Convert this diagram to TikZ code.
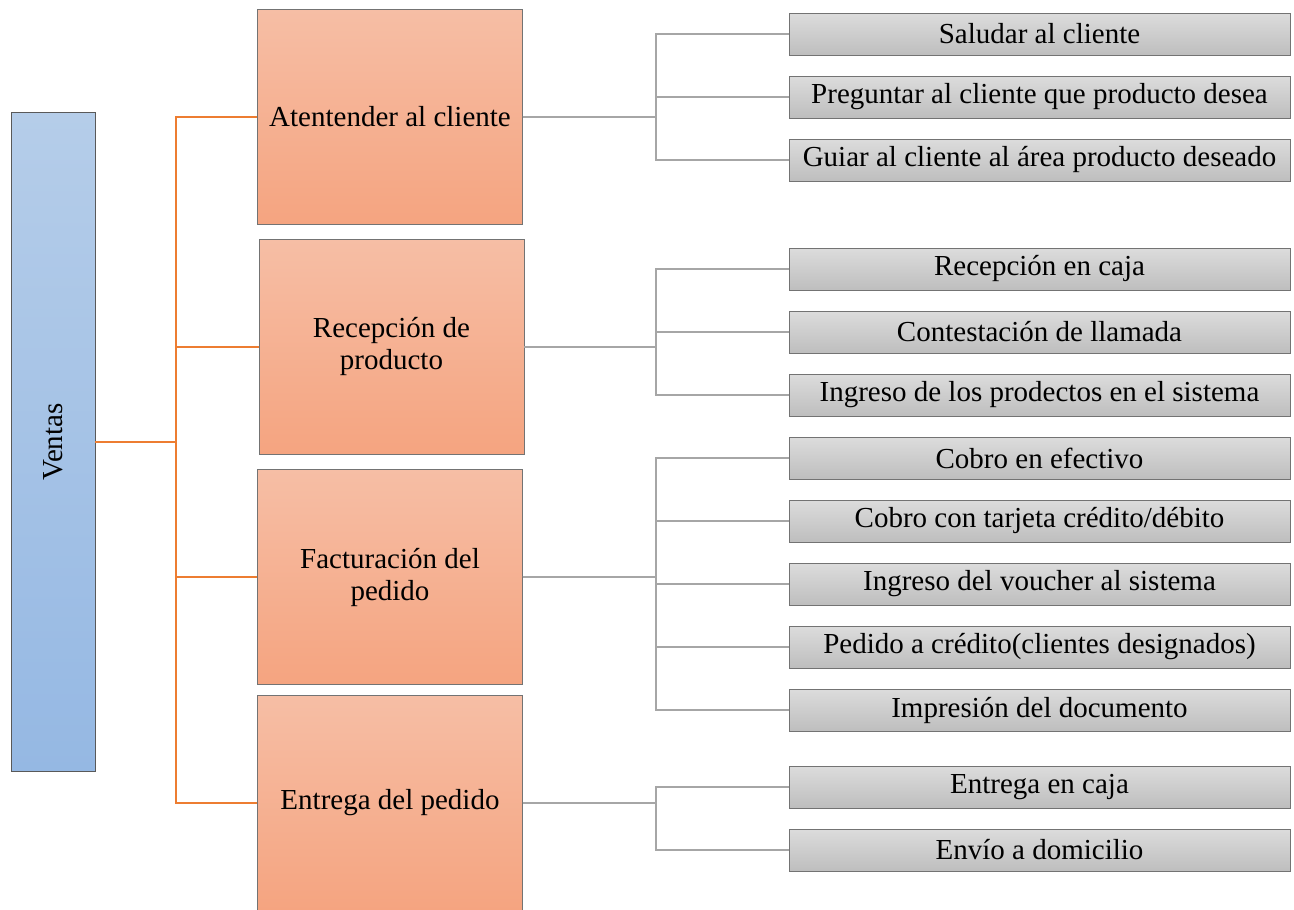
\documentclass[tikz,border=0pt]{standalone}
\usepackage{graphicx}
\usepackage{fontspec}
\setmainfont{Liberation Serif}
\definecolor{rootTop}{HTML}{B5CDE9}
\definecolor{rootBot}{HTML}{95B8E3}
\definecolor{stepTop}{HTML}{F6BEA5}
\definecolor{stepBot}{HTML}{F5A480}
\definecolor{taskTop}{HTML}{DCDCDC}
\definecolor{taskBot}{HTML}{BEBEBE}
\definecolor{orangeLn}{HTML}{ED7D31}
\definecolor{grayLn}{HTML}{A6A6A6}
\tikzset{
  rootbox/.style={draw=black!65,top color=rootTop,bottom color=rootBot,minimum width=84pt,minimum height=659pt,inner sep=0pt},
  stepbox/.style={draw=black!55,top color=stepTop,bottom color=stepBot,minimum width=265pt,minimum height=215pt,align=center,inner sep=0pt},
  taskbox/.style={draw=black!55,top color=taskTop,bottom color=taskBot,minimum width=501pt,minimum height=42pt,inner sep=0pt},
  orangeline/.style={draw=orangeLn,line width=2pt},
  grayline/.style={draw=grayLn,line width=2.5pt}
}
\begin{document}
\begin{tikzpicture}[x=1pt,y=-1pt,font=\fontsize{29}{32}\selectfont]
\useasboundingbox (0,0) rectangle (1294,910);
\node[rootbox] (ventas) at (53,442) {\rotatebox{90}{Ventas}};
% second level
\node[stepbox] (atender) at (390,117) {Atentender al cliente};
\node[stepbox] (recepcion) at (391.5,347) {Recepción de\\producto};
\node[stepbox] (factura) at (390,577) {Facturación del\\pedido};
\node[stepbox] (entrega) at (390,803) {Entrega del pedido};
% third level
\foreach \n/\y/\t in {s1/34/Saludar al cliente,s2/97/Preguntar al cliente que producto desea,s3/160/Guiar al cliente al área producto deseado,
  r1/269/Recepción en caja,r2/332/Contestación de llamada,r3/395/Ingreso de los prodectos en el sistema,
  f1/458/Cobro en efectivo,f2/521/{Cobro con tarjeta crédito/débito},f3/584/Ingreso del voucher al sistema,f4/647/Pedido a crédito(clientes designados),f5/710/Impresión del documento,
  e1/787/Entrega en caja,e2/850/Envío a domicilio}
  \node[taskbox] (\n) at (1039.5,\y) {\t};
% connectors
\coordinate (ob) at (176,0);
\coordinate (gb) at (656,0);
\draw[orangeline] (ventas.east) -- (ventas.east -| ob);
\foreach \b in {atender,recepcion,factura,entrega}
  \draw[orangeline] (ventas.east -| ob) |- (\b.west);
\foreach \b/\c in {atender/s1,atender/s2,atender/s3,recepcion/r1,recepcion/r2,recepcion/r3,
  factura/f1,factura/f2,factura/f3,factura/f4,factura/f5,entrega/e1,entrega/e2}
  \draw[grayline] (\b.east) -- (\b.east -| gb) |- (\c.west);
\end{tikzpicture}
\end{document}
